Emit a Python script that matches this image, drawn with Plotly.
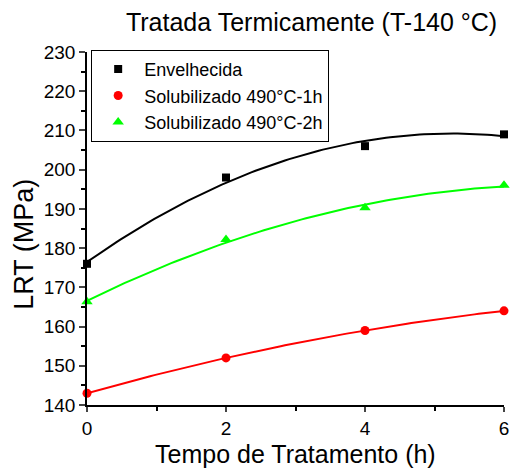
import numpy as np
import plotly.graph_objects as go

tempo = [0, 2, 4, 6]
envelhecida = [176, 198, 206, 209]
sol_1h = [143, 152, 159, 164]
sol_2h = [166.3, 182.2, 190.3, 196]

series = [
    ("Envelhecida", envelhecida, "black", "square", 8),
    ("Solubilizado 490°C-1h", sol_1h, "#ff0000", "circle", 9),
    ("Solubilizado 490°C-2h", sol_2h, "#00ff00", "triangle-up", 10),
]

fig = go.Figure()
xs = np.linspace(min(tempo), max(tempo), 100)
for name, ys, color, sym, size in series:
    coef = np.polyfit(tempo, ys, 2)
    fig.add_trace(go.Scatter(x=xs, y=np.polyval(coef, xs), mode="lines",
                             line=dict(color=color, width=2), showlegend=False,
                             hoverinfo="skip"))
for name, ys, color, sym, size in series:
    fig.add_trace(go.Scatter(x=tempo, y=ys, mode="markers", name=name,
                             marker=dict(color=color, symbol=sym, size=size),
                             cliponaxis=False))

font = "Liberation Sans, Arial, sans-serif"
fig.update_layout(
    width=515, height=468,
    margin=dict(l=87, r=6, t=52, b=63),
    paper_bgcolor="white", plot_bgcolor="white",
    font=dict(family=font, color="black", size=16),
    title=dict(text="Tratada Termicamente (T-140 °C)", x=0.605, xanchor="center",
               y=0.953, yanchor="middle", font=dict(size=25)),
    legend=dict(x=0.01, y=1.006, xanchor="left", yanchor="top",
                bordercolor="black", borderwidth=1, bgcolor="white",
                font=dict(size=18), itemwidth=42, tracegroupgap=0),
    showlegend=True,
    annotations=[
        dict(text="Tempo de Tratamento (h)", xref="paper", yref="paper",
             x=0.5, y=-0.0935, xanchor="center", yanchor="top",
             showarrow=False, font=dict(size=25)),
        dict(text="LRT (MPa)", xref="paper", yref="paper", textangle=-90,
             x=-0.1517, y=0.456, xanchor="center", yanchor="middle",
             showarrow=False, font=dict(size=27)),
    ],
)
fig.update_xaxes(range=[0, 6], tickvals=[0, 2, 4, 6], showline=True, linecolor="black",
                 linewidth=1.5, ticks="outside", ticklen=5, tickwidth=1.5,
                 showgrid=False, zeroline=False, tickfont=dict(size=19),
                 minor=dict(tickvals=[1, 3, 5], ticks="outside", ticklen=4, tickcolor="black"))
fig.update_yaxes(range=[140, 230], dtick=10, showline=True, linecolor="black",
                 linewidth=1.5, ticks="outside", ticklen=6, tickwidth=1.5,
                 showgrid=False, zeroline=False, tickfont=dict(size=19),
                 minor=dict(dtick=5, ticks="outside", ticklen=4, tickcolor="black"))

fig.write_html("out.html")
